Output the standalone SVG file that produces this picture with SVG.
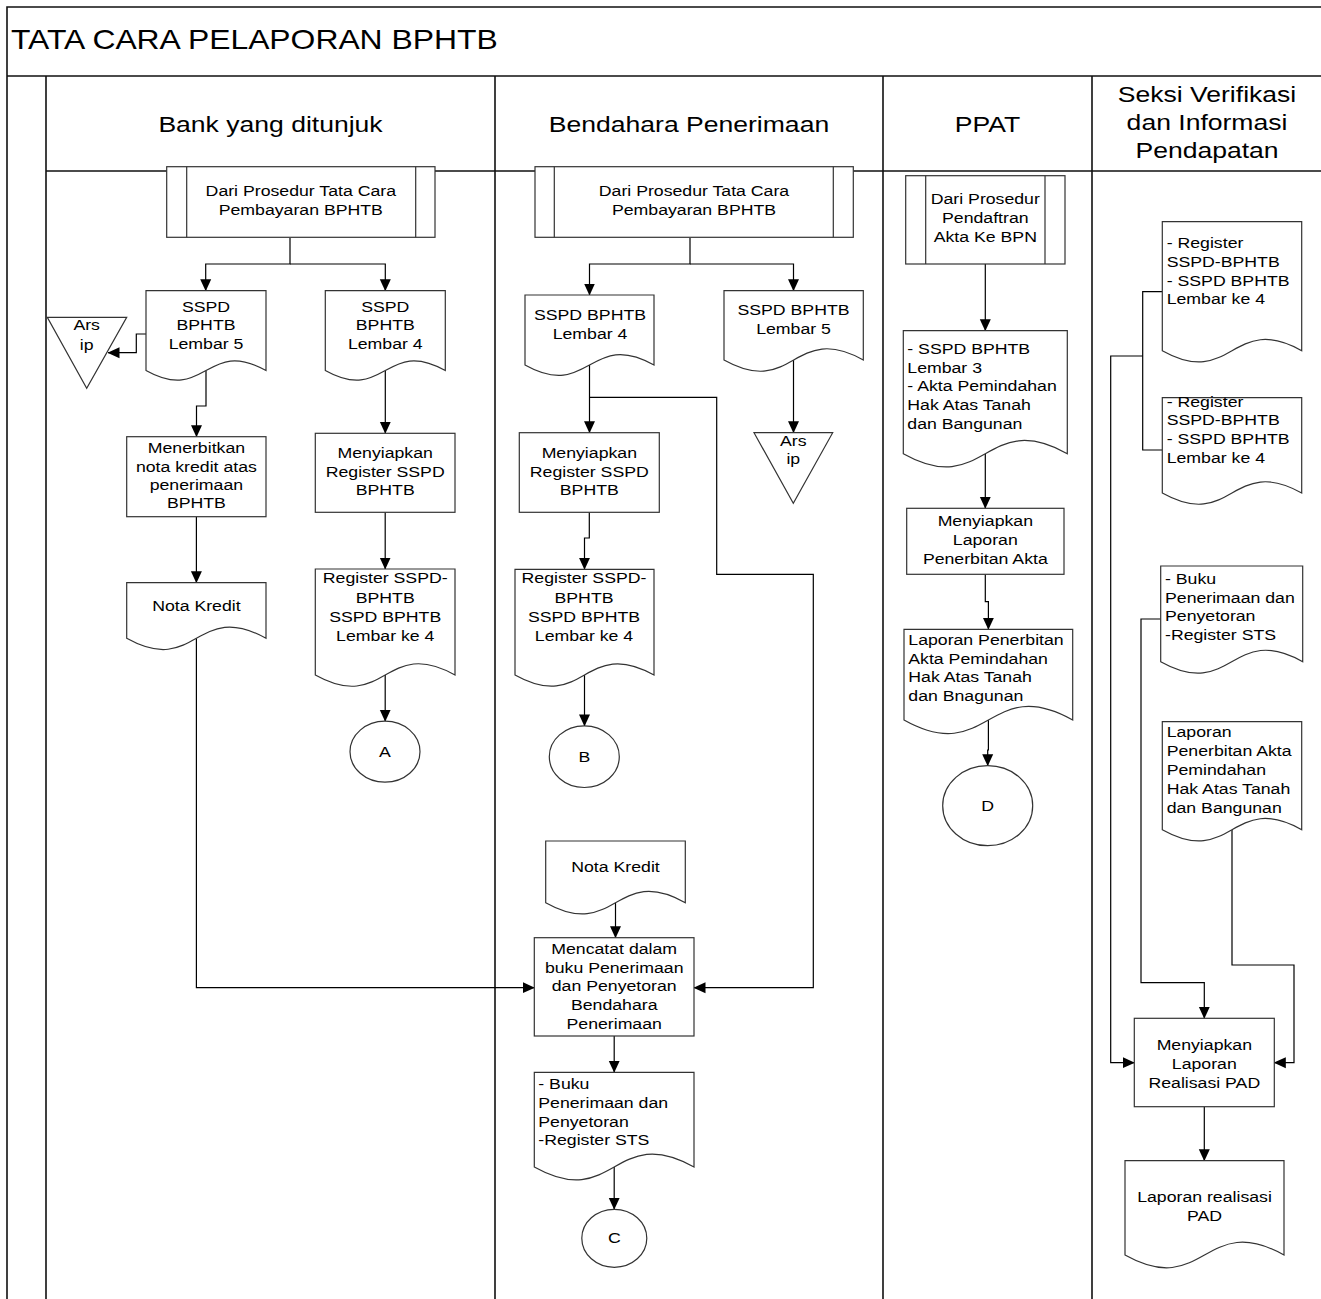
<svg xmlns="http://www.w3.org/2000/svg" width="1321" height="1299" viewBox="0 0 1321 1299">
  <style>
    .frame { fill: none; stroke: #111; stroke-width: 1.6; }
    .shape { fill: #fff; stroke: #333; stroke-width: 1.2; }
    .inner { fill: none; stroke: #333; stroke-width: 1.2; }
    .conn { fill: none; stroke: #000; stroke-width: 1.2; }
    .arrow { marker-end: url(#ah); }
    text { font-family: "Liberation Sans", Arial, sans-serif; fill: #000; }
    .t { font-size: 15px; }
    .c { text-anchor: middle; }
    .h { font-size: 22.5px; text-anchor: middle; }
    .title { font-size: 27px; }
  </style>
  <defs>
    <marker id="ah" markerUnits="userSpaceOnUse" viewBox="0 0 12 12" markerWidth="12" markerHeight="12" refX="11.5" refY="6" orient="auto">
      <path d="M0,0.5 L12,6 L0,11.5 Z" fill="#000"/>
    </marker>
  </defs>

  <rect width="1321" height="1299" fill="#fff"/>

  <!-- swimlane frame -->
  <g id="frame">
    <path class="frame" d="M7,1299 V7 H1321 M7,76 H1321 M46,76 V1299 M495,76 V1299 M883,76 V1299 M1092,76 V1299 M46,171 H1321"/>
    <g transform="translate(11 0) scale(1.18 1)"><text class="title" x="0" y="49">TATA CARA PELAPORAN BPHTB</text></g>
    <g transform="translate(270.5 0) scale(1.18 1)"><text class="h" x="0" y="131.7">Bank yang ditunjuk</text></g>
    <g transform="translate(689 0) scale(1.18 1)"><text class="h" x="0" y="131.7">Bendahara Penerimaan</text></g>
    <g transform="translate(987.5 0) scale(1.18 1)"><text class="h" x="0" y="131.7">PPAT</text></g>
    <g transform="translate(1207 0) scale(1.18 1)"><text class="h"><tspan x="0" y="101.7">Seksi Verifikasi</tspan><tspan x="0" y="130">dan Informasi</tspan><tspan x="0" y="158">Pendapatan</tspan></text></g>
  </g>

  <!-- connectors -->
  <g id="connectors">
    <!-- Bank yang ditunjuk -->
    <path class="conn arrow" d="M290,238 V264 H205.7 V290.7"/>
    <path class="conn arrow" d="M290,264 H385.3 V290.7"/>
    <path class="conn arrow" d="M146,334 H136.3 V352.7 H108"/>
    <path class="conn arrow" d="M206,370.5 V406 H196.5 V436.7"/>
    <path class="conn arrow" d="M385.3,370.5 V433.3"/>
    <path class="conn arrow" d="M196.4,516.7 V582.7"/>
    <path class="conn arrow" d="M385.2,512.3 V569"/>
    <path class="conn arrow" d="M385.2,675 V721.2"/>
    <path class="conn arrow" d="M196.4,638.3 V987.7 H534.3"/>
    <!-- Bendahara Penerimaan -->
    <path class="conn arrow" d="M690,238 V264 H589.5 V295"/>
    <path class="conn arrow" d="M690,264 H793.5 V290.7"/>
    <path class="conn arrow" d="M589.5,365 V432.7"/>
    <path class="conn arrow" d="M589.5,397.3 H716.7 V574.3 H813.3 V987.7 H694"/>
    <path class="conn arrow" d="M793.5,360 V432.7"/>
    <path class="conn arrow" d="M589.3,512.3 V538 H584.5 V569.3"/>
    <path class="conn arrow" d="M584.5,675 V725.9"/>
    <path class="conn arrow" d="M615.5,902.7 V937.7"/>
    <path class="conn arrow" d="M614.2,1036 V1072.3"/>
    <path class="conn arrow" d="M614.2,1167 V1209.3"/>
    <!-- PPAT -->
    <path class="conn arrow" d="M985.3,264 V330.7"/>
    <path class="conn arrow" d="M985.3,453.7 V508.3"/>
    <path class="conn arrow" d="M985.3,574.3 V601.7 H988.4 V629.3"/>
    <path class="conn arrow" d="M988.4,720 V750 H987.7 V765.7"/>
    <!-- Seksi Verifikasi dan Informasi Pendapatan -->
    <path class="conn" d="M1162.3,291.7 H1142.7 V450 H1162.3"/>
    <path class="conn arrow" d="M1142.7,356 H1110.7 V1062.7 H1134.3"/>
    <path class="conn arrow" d="M1160.7,619 H1141 V982.7 H1204.3 V1018.3"/>
    <path class="conn arrow" d="M1232,829.7 V965 H1294 V1062.7 H1274.3"/>
    <path class="conn arrow" d="M1204.3,1106.7 V1160.7"/>
  </g>

  <!-- Bank yang ditunjuk -->
  <g id="bank-dari-prosedur">
    <rect class="shape" x="166.7" y="166.7" width="268.3" height="70.6"/>
    <path class="inner" d="M186.7,166.7 V237.3 M415.7,166.7 V237.3"/>
    <g transform="translate(300.8 0) scale(1.18 1)"><text class="t c"><tspan x="0" y="196.5">Dari Prosedur Tata Cara</tspan><tspan x="0" y="215">Pembayaran BPHTB</tspan></text></g>
  </g>
  <g id="bank-sspd-lembar5">
    <path class="shape" d="M146,290.7 H266 V370.5 C206,336.9 206,404.1 146,370.5 Z"/>
    <g transform="translate(206 0) scale(1.18 1)"><text class="t c"><tspan x="0" y="311.7">SSPD</tspan><tspan x="0" y="330.3">BPHTB</tspan><tspan x="0" y="349">Lembar 5</tspan></text></g>
  </g>
  <g id="bank-sspd-lembar4">
    <path class="shape" d="M325.3,290.7 H445.3 V370.5 C385.3,336.9 385.3,404.1 325.3,370.5 Z"/>
    <g transform="translate(385.3 0) scale(1.18 1)"><text class="t c"><tspan x="0" y="311.7">SSPD</tspan><tspan x="0" y="330.3">BPHTB</tspan><tspan x="0" y="349">Lembar 4</tspan></text></g>
  </g>
  <g id="bank-arsip">
    <polygon class="shape" points="47.3,317.3 126.7,317.3 86.7,388.3"/>
    <g transform="translate(86.7 0) scale(1.18 1)"><text class="t c"><tspan x="0" y="330">Ars</tspan><tspan x="0" y="350">ip</tspan></text></g>
  </g>
  <g id="bank-menerbitkan-nota">
    <rect class="shape" x="126.7" y="436.7" width="139.3" height="80"/>
    <g transform="translate(196.4 0) scale(1.18 1)"><text class="t c"><tspan x="0" y="453">Menerbitkan</tspan><tspan x="0" y="471.7">nota kredit atas</tspan><tspan x="0" y="490">penerimaan</tspan><tspan x="0" y="508.5">BPHTB</tspan></text></g>
  </g>
  <g id="bank-menyiapkan-register">
    <rect class="shape" x="315.3" y="433.3" width="139.7" height="79"/>
    <g transform="translate(385.2 0) scale(1.18 1)"><text class="t c"><tspan x="0" y="458">Menyiapkan</tspan><tspan x="0" y="476.7">Register SSPD</tspan><tspan x="0" y="495">BPHTB</tspan></text></g>
  </g>
  <g id="bank-nota-kredit">
    <path class="shape" d="M126.7,582.7 H266 V638.3 C196.4,599.3 196.4,677.3 126.7,638.3 Z"/>
    <g transform="translate(196.4 0) scale(1.18 1)"><text class="t c" x="0" y="610.7">Nota Kredit</text></g>
  </g>
  <g id="bank-register-sspd">
    <path class="shape" d="M315.3,569 H455 V675 C385.2,635.9 385.2,714.1 315.3,675 Z"/>
    <g transform="translate(385.2 0) scale(1.18 1)"><text class="t c"><tspan x="0" y="583.3">Register SSPD-</tspan><tspan x="0" y="602.7">BPHTB</tspan><tspan x="0" y="621.7">SSPD BPHTB</tspan><tspan x="0" y="640.7">Lembar ke 4</tspan></text></g>
  </g>
  <g id="connector-a">
    <ellipse class="shape" cx="385" cy="751.7" rx="35" ry="30.5"/>
    <g transform="translate(385 0) scale(1.18 1)"><text class="t c" x="0" y="757">A</text></g>
  </g>

  <!-- Bendahara Penerimaan -->
  <g id="bendahara-dari-prosedur">
    <rect class="shape" x="535" y="166.7" width="318.3" height="70.6"/>
    <path class="inner" d="M554.3,166.7 V237.3 M833.3,166.7 V237.3"/>
    <g transform="translate(694 0) scale(1.18 1)"><text class="t c"><tspan x="0" y="196.5">Dari Prosedur Tata Cara</tspan><tspan x="0" y="215">Pembayaran BPHTB</tspan></text></g>
  </g>
  <g id="bendahara-sspd-lembar4">
    <path class="shape" d="M525,295 H654 V365 C589.5,328.9 589.5,401.1 525,365 Z"/>
    <g transform="translate(590 0) scale(1.18 1)"><text class="t c"><tspan x="0" y="320">SSPD BPHTB</tspan><tspan x="0" y="339">Lembar 4</tspan></text></g>
  </g>
  <g id="bendahara-sspd-lembar5">
    <path class="shape" d="M724,290.7 H863.3 V360 C793.7,321 793.7,399 724,360 Z"/>
    <g transform="translate(793.5 0) scale(1.18 1)"><text class="t c"><tspan x="0" y="315">SSPD BPHTB</tspan><tspan x="0" y="334">Lembar 5</tspan></text></g>
  </g>
  <g id="bendahara-arsip">
    <polygon class="shape" points="754,432.7 832.7,432.7 793.3,503.3"/>
    <g transform="translate(793.3 0) scale(1.18 1)"><text class="t c"><tspan x="0" y="445.7">Ars</tspan><tspan x="0" y="464">ip</tspan></text></g>
  </g>
  <g id="bendahara-menyiapkan-register">
    <rect class="shape" x="519.3" y="432.7" width="140" height="79.6"/>
    <g transform="translate(589.3 0) scale(1.18 1)"><text class="t c"><tspan x="0" y="458">Menyiapkan</tspan><tspan x="0" y="476.7">Register SSPD</tspan><tspan x="0" y="495">BPHTB</tspan></text></g>
  </g>
  <g id="bendahara-register-sspd">
    <path class="shape" d="M515,569.3 H654 V675 C584.5,636.1 584.5,713.9 515,675 Z"/>
    <g transform="translate(584 0) scale(1.18 1)"><text class="t c"><tspan x="0" y="583.3">Register SSPD-</tspan><tspan x="0" y="602.7">BPHTB</tspan><tspan x="0" y="621.7">SSPD BPHTB</tspan><tspan x="0" y="640.7">Lembar ke 4</tspan></text></g>
  </g>
  <g id="connector-b">
    <ellipse class="shape" cx="584.3" cy="756.7" rx="35" ry="30.8"/>
    <g transform="translate(584.3 0) scale(1.18 1)"><text class="t c" x="0" y="762">B</text></g>
  </g>
  <g id="bendahara-nota-kredit">
    <path class="shape" d="M545.7,841 H685.3 V902.7 C615.5,863.6 615.5,941.8 545.7,902.7 Z"/>
    <g transform="translate(615.5 0) scale(1.18 1)"><text class="t c" x="0" y="872.3">Nota Kredit</text></g>
  </g>
  <g id="bendahara-mencatat">
    <rect class="shape" x="534.3" y="937.7" width="159.7" height="98.3"/>
    <g transform="translate(614.2 0) scale(1.18 1)"><text class="t c"><tspan x="0" y="954">Mencatat dalam</tspan><tspan x="0" y="972.7">buku Penerimaan</tspan><tspan x="0" y="991.5">dan Penyetoran</tspan><tspan x="0" y="1010.5">Bendahara</tspan><tspan x="0" y="1029.3">Penerimaan</tspan></text></g>
  </g>
  <g id="bendahara-buku-sts">
    <path class="shape" d="M534.3,1072.3 H694 V1167 C614.2,1122.3 614.2,1211.7 534.3,1167 Z"/>
    <g transform="translate(538.3 0) scale(1.18 1)"><text class="t"><tspan x="0" y="1089.3">- Buku</tspan><tspan x="0" y="1108.3">Penerimaan dan</tspan><tspan x="0" y="1126.7">Penyetoran</tspan><tspan x="0" y="1145">-Register STS</tspan></text></g>
  </g>
  <g id="connector-c">
    <ellipse class="shape" cx="614.3" cy="1238.3" rx="32.5" ry="29"/>
    <g transform="translate(614.3 0) scale(1.18 1)"><text class="t c" x="0" y="1243.5">C</text></g>
  </g>

  <!-- PPAT -->
  <g id="ppat-dari-prosedur">
    <rect class="shape" x="905.7" y="175.7" width="159.3" height="88.3"/>
    <path class="inner" d="M925.7,175.7 V264 M1045,175.7 V264"/>
    <g transform="translate(985.3 0) scale(1.18 1)"><text class="t c"><tspan x="0" y="204.3">Dari Prosedur</tspan><tspan x="0" y="223.3">Pendaftran</tspan><tspan x="0" y="242.3">Akta Ke BPN</tspan></text></g>
  </g>
  <g id="ppat-sspd-akta">
    <path class="shape" d="M903.3,330.7 H1067.3 V453.7 C985.3,407.8 985.3,499.6 903.3,453.7 Z"/>
    <g transform="translate(907.3 0) scale(1.18 1)"><text class="t"><tspan x="0" y="354">- SSPD BPHTB</tspan><tspan x="0" y="372.7">Lembar 3</tspan><tspan x="0" y="391.3">- Akta Pemindahan</tspan><tspan x="0" y="410">Hak Atas Tanah</tspan><tspan x="0" y="428.7">dan Bangunan</tspan></text></g>
  </g>
  <g id="ppat-menyiapkan-laporan">
    <rect class="shape" x="906.7" y="508.3" width="157.3" height="66"/>
    <g transform="translate(985.3 0) scale(1.18 1)"><text class="t c"><tspan x="0" y="526">Menyiapkan</tspan><tspan x="0" y="545">Laporan</tspan><tspan x="0" y="564">Penerbitan Akta</tspan></text></g>
  </g>
  <g id="ppat-laporan-penerbitan">
    <path class="shape" d="M904,629.3 H1072.7 V720 C988.4,672.8 988.4,767.2 904,720 Z"/>
    <g transform="translate(908.3 0) scale(1.18 1)"><text class="t"><tspan x="0" y="645">Laporan Penerbitan</tspan><tspan x="0" y="663.7">Akta Pemindahan</tspan><tspan x="0" y="682.3">Hak Atas Tanah</tspan><tspan x="0" y="701">dan Bnagunan</tspan></text></g>
  </g>
  <g id="connector-d">
    <ellipse class="shape" cx="987.7" cy="805.7" rx="45" ry="40"/>
    <g transform="translate(987.7 0) scale(1.18 1)"><text class="t c" x="0" y="811">D</text></g>
  </g>

  <!-- Seksi Verifikasi dan Informasi Pendapatan -->
  <g id="seksi-register-1">
    <path class="shape" d="M1162.3,221.7 H1301.7 V350.7 C1232,311.7 1232,389.7 1162.3,350.7 Z"/>
    <g transform="translate(1166.7 0) scale(1.18 1)"><text class="t"><tspan x="0" y="248.3">- Register</tspan><tspan x="0" y="267">SSPD-BPHTB</tspan><tspan x="0" y="285.7">- SSPD BPHTB</tspan><tspan x="0" y="304.3">Lembar ke 4</tspan></text></g>
  </g>
  <g id="seksi-register-2">
    <path class="shape" d="M1162.3,397.7 H1301.7 V493 C1232,454 1232,532 1162.3,493 Z"/>
    <g transform="translate(1166.7 0) scale(1.18 1)"><text class="t"><tspan x="0" y="406.7">- Register</tspan><tspan x="0" y="425.3">SSPD-BPHTB</tspan><tspan x="0" y="444">- SSPD BPHTB</tspan><tspan x="0" y="462.7">Lembar ke 4</tspan></text></g>
  </g>
  <g id="seksi-buku-sts">
    <path class="shape" d="M1160.7,566 H1302.7 V661.7 C1231.7,621.9 1231.7,701.5 1160.7,661.7 Z"/>
    <g transform="translate(1165 0) scale(1.18 1)"><text class="t"><tspan x="0" y="584">- Buku</tspan><tspan x="0" y="602.7">Penerimaan dan</tspan><tspan x="0" y="621.3">Penyetoran</tspan><tspan x="0" y="640">-Register STS</tspan></text></g>
  </g>
  <g id="seksi-laporan-penerbitan">
    <path class="shape" d="M1162.3,721.7 H1301.7 V829.7 C1232,790.7 1232,868.7 1162.3,829.7 Z"/>
    <g transform="translate(1166.7 0) scale(1.18 1)"><text class="t"><tspan x="0" y="737">Laporan</tspan><tspan x="0" y="756">Penerbitan Akta</tspan><tspan x="0" y="775">Pemindahan</tspan><tspan x="0" y="794">Hak Atas Tanah</tspan><tspan x="0" y="812.7">dan Bangunan</tspan></text></g>
  </g>
  <g id="seksi-menyiapkan-realisasi">
    <rect class="shape" x="1134.3" y="1018.3" width="140" height="88.4"/>
    <g transform="translate(1204.3 0) scale(1.18 1)"><text class="t c"><tspan x="0" y="1050">Menyiapkan</tspan><tspan x="0" y="1069">Laporan</tspan><tspan x="0" y="1087.7">Realisasi PAD</tspan></text></g>
  </g>
  <g id="seksi-laporan-realisasi">
    <path class="shape" d="M1125,1160.7 H1284 V1255 C1204.5,1210.5 1204.5,1299.5 1125,1255 Z"/>
    <g transform="translate(1204.5 0) scale(1.18 1)"><text class="t c"><tspan x="0" y="1201.7">Laporan realisasi</tspan><tspan x="0" y="1220.7">PAD</tspan></text></g>
  </g>
</svg>
